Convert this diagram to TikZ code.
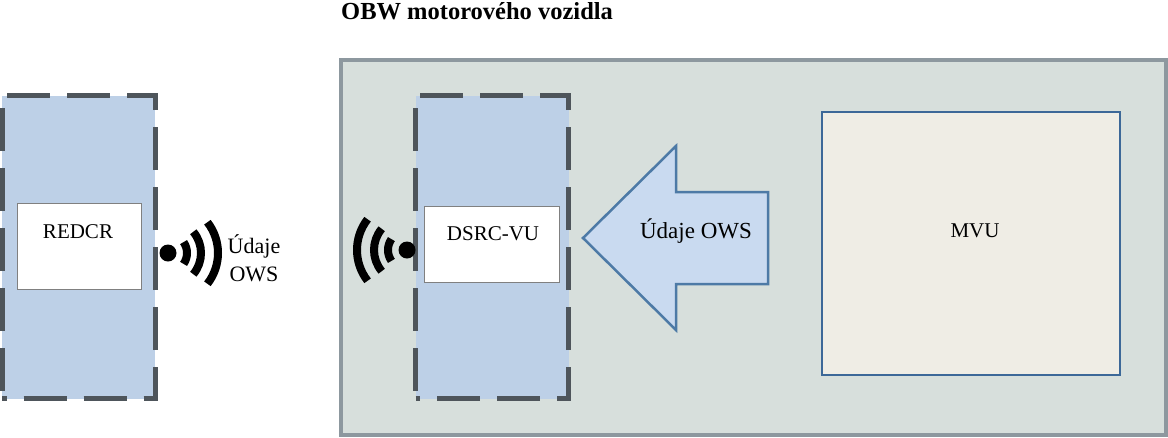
\documentclass[tikz,border=0pt]{standalone}
\usepackage{fontspec}
\setmainfont{Liberation Serif}
\definecolor{unitblue}{HTML}{BDD0E7}
\definecolor{obwgreen}{HTML}{D7DFDC}
\definecolor{obwline}{HTML}{8D989F}
\definecolor{dashgray}{HTML}{4E555B}
\definecolor{mvufill}{HTML}{EFEDE5}
\definecolor{mvuline}{HTML}{3C6898}
\definecolor{arrowfill}{HTML}{C9DAF0}
\definecolor{arrowline}{HTML}{4D7AA6}
\tikzset{
  unitbox/.style={rectangle, draw=dashgray, fill=unitblue, line width=5pt, dash pattern=on 43pt off 17pt, dash phase=38.5pt,
    minimum width=153pt, minimum height=303pt, inner sep=0pt},
  innerbox/.style={rectangle, draw=black!50, fill=white, line width=1pt, inner sep=0pt},
  txt/.style={inner sep=0pt, align=center, font=\fontsize{21}{28}\selectfont},
  wifiarc/.style={line width=8pt, black}
}
\begin{document}
\begin{tikzpicture}[x=1pt, y=-1pt]
    \useasboundingbox (0,0) rectangle (1168,437);
    % vehicle
    \node[rectangle, draw=obwline, fill=obwgreen, line width=4pt, minimum width=825pt, minimum height=375pt, inner sep=0pt] (obw) at (753.5,247.5) {};
    \node[anchor=west, inner sep=0pt, font=\bfseries\fontsize{24.5}{28}\selectfont] (obwtitle) at (341,11) {OBW motorového vozidla};
    % dashed units
    \node[unitbox] (redcrunit) at (78.5,247) {};
    \node[unitbox] (dsrcunit) at (492,247) {};
    \node[innerbox, minimum width=124pt, minimum height=86pt] (redcr) at (79,246) {};
    \node[txt] (redcrtxt) at (78,232) {REDCR};
    \node[innerbox, minimum width=135pt, minimum height=76pt] (dsrc) at (491.5,244) {};
    \node[txt] (dsrctxt) at (493,234) {DSRC-VU};
    \node[rectangle, draw=mvuline, fill=mvufill, line width=2pt, minimum width=298pt, minimum height=263pt, inner sep=0pt] (mvu) at (971,243.5) {};
    \node[txt] (mvutxt) at (975,231) {MVU};
    % big arrow
    \draw[draw=arrowline, fill=arrowfill, line width=2.5pt] (583,238) -- (676,146) -- (676,192) -- (768,192) -- (768,284) -- (676,284) -- (676,330) -- cycle;
    \node[txt, font=\fontsize{23}{28}\selectfont] (arrowtxt) at (696,231) {Údaje OWS};
    % wireless signs
    \coordinate (redcrant) at (168,253);
    \coordinate (dsrcant) at (407,250);
    \fill[black] (redcrant) circle (8.5);
    \fill[black] (dsrcant) circle (8.5);
    \foreach \r/\a in {19/35, 33/40, 50/38} {
        \draw[wifiarc] (redcrant) ++(-\a:\r) arc[start angle=-\a, end angle=\a, radius=\r];
        \draw[wifiarc] (dsrcant) ++(180+\a:\r) arc[start angle=180+\a, end angle=180-\a, radius=\r];
    }
    \node[txt, font=\fontsize{22}{28}\selectfont] (owstxt) at (254,258) {Údaje\\OWS};
\end{tikzpicture}
\end{document}
